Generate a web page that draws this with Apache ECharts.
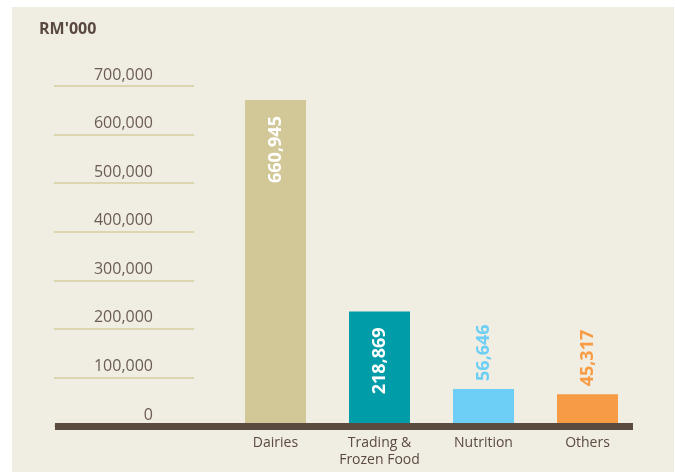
<!DOCTYPE html>
<html><head><meta charset="utf-8">
<script src="https://cdn.jsdelivr.net/npm/echarts@6/dist/echarts.min.js"></script>
<style>html,body{margin:0;padding:0;background:#fff}#c{width:675px;height:472px}</style>
</head><body><div id="c"></div>
<script>
const unitLabel = "RM'000";
const categories = ['Dairies', 'Trading &\nFrozen Food', 'Nutrition', 'Others'];
const values = [660945, 218869, 56646, 45317];
const barColors = ['#d1c797', '#009da8', '#6dcff6', '#f79c45'];
const tickValues = [0, 100000, 200000, 300000, 400000, 500000, 600000, 700000];

const FONT = 'Open Sans';
const fmt = v => String(Math.round(v)).replace(/\B(?=(\d{3})+(?!\d))/g, ',');

const barData = values.map((v, i) => {
  const inside = v > 100000;
  return {
    value: v,
    itemStyle: { color: barColors[i] },
    label: inside ? {
      show: true, position: 'insideTop', rotate: 90, align: 'right', verticalAlign: 'middle',
      distance: 16, color: '#ffffff'
    } : {
      show: true, position: 'top', rotate: 90, align: 'left', verticalAlign: 'middle',
      distance: 8, color: barColors[i]
    }
  };
});

const chart = echarts.init(document.getElementById('c'), null, { renderer: 'canvas' });
chart.setOption({
  animation: false,
  backgroundColor: '#ffffff',
  title: {
    text: unitLabel, left: 34, top: 16,
    textStyle: { fontFamily: FONT, fontSize: 16, fontWeight: 'bold', color: '#594840' }
  },
  graphic: [{
    type: 'rect', left: 12, top: 7, z: -100, silent: true,
    shape: { width: 662, height: 465 },
    style: { fill: '#f0ede3' }
  }],
  grid: [
    { left: 54, width: 140, top: 86, bottom: 46, containLabel: false, outerBoundsMode: 'none' },
    { left: 223.5, right: 35.5, top: 86, bottom: 46, containLabel: false, outerBoundsMode: 'none' },
    { left: 55, right: 42, top: 86, bottom: 46, containLabel: false, outerBoundsMode: 'none' }
  ],
  xAxis: [
    { gridIndex: 0, type: 'category', data: [''], show: false },
    {
      gridIndex: 1, type: 'category', data: categories,
      axisLine: { show: false }, axisTick: { show: false }, splitLine: { show: false },
      axisLabel: { fontFamily: FONT, fontSize: 14, color: '#5a4a42', margin: 9, lineHeight: 17, interval: 0 }
    },
    {
      gridIndex: 2, type: 'value', min: 0, max: 1, z: 10,
      axisLine: { show: true, lineStyle: { color: '#5b4b41', width: 7, cap: 'butt' } },
      axisTick: { show: false }, axisLabel: { show: false }, splitLine: { show: false }
    }
  ],
  yAxis: [
    {
      gridIndex: 0, type: 'value', min: tickValues[0], max: tickValues[tickValues.length - 1],
      interval: tickValues[1] - tickValues[0],
      axisLine: { show: false }, axisTick: { show: false },
      splitLine: { show: true, lineStyle: { color: '#d6cc9f', width: 1.5 } },
      axisLabel: {
        inside: true, align: 'right', margin: 99, verticalAlign: 'bottom', padding: [0, 0, 3, 0],
        fontFamily: FONT, fontSize: 16, color: '#6b5d55', formatter: fmt
      }
    },
    {
      gridIndex: 1, type: 'value', min: -20900, max: 690400, startValue: -20900, show: false,
      splitLine: { show: false }
    },
    { gridIndex: 2, type: 'value', min: 0, max: 1, show: false, splitLine: { show: false } }
  ],
  series: [{
    type: 'bar', xAxisIndex: 1, yAxisIndex: 1, barWidth: 61,
    data: barData,
    label: { fontFamily: FONT, fontSize: 18, fontWeight: 'bold', formatter: p => fmt(p.value) }
  }]
});
</script>
</body></html>
